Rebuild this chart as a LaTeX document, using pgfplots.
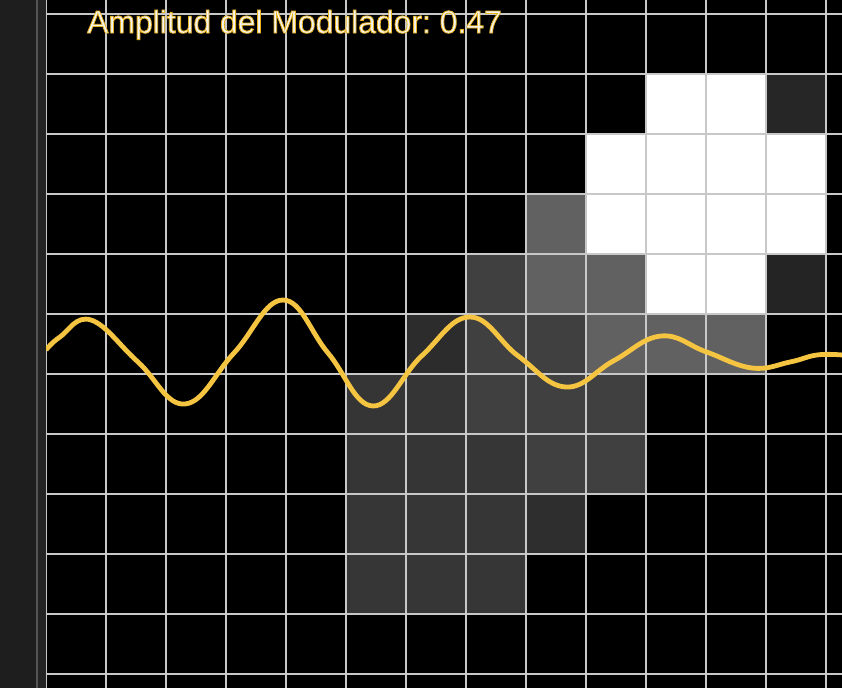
\documentclass[border=0pt]{standalone}
\usepackage{pgfplots}
\pgfplotsset{compat=1.18}
\usepackage{pgfplotstable}
\usepackage{fontspec}
\setmainfont{Liberation Sans}
\usetikzlibrary{calc}

\definecolor{gridgray}{HTML}{C8C8C8}
\definecolor{curve}{HTML}{F5C542}
\definecolor{txt}{HTML}{F5F5F2}
\definecolor{strip}{HTML}{1E1E1E}
\definecolor{stripline}{HTML}{555555}
\definecolor{stripin}{HTML}{232323}

% cell grey levels (0..255), one row per grid row, x varies fastest
\pgfplotstableread{
x y g
5.5 9.5 0
6.5 9.5 0
7.5 9.5 0
8.5 9.5 0
9.5 9.5 0
10.5 9.5 255
11.5 9.5 255
12.5 9.5 38
5.5 8.5 0
6.5 8.5 0
7.5 8.5 0
8.5 8.5 0
9.5 8.5 255
10.5 8.5 255
11.5 8.5 255
12.5 8.5 255
5.5 7.5 0
6.5 7.5 0
7.5 7.5 0
8.5 7.5 96
9.5 7.5 255
10.5 7.5 255
11.5 7.5 255
12.5 7.5 255
5.5 6.5 0
6.5 6.5 0
7.5 6.5 64
8.5 6.5 96
9.5 6.5 96
10.5 6.5 255
11.5 6.5 255
12.5 6.5 36
5.5 5.5 0
6.5 5.5 44
7.5 5.5 64
8.5 5.5 64
9.5 5.5 96
10.5 5.5 96
11.5 5.5 96
12.5 5.5 0
5.5 4.5 53
6.5 4.5 53
7.5 4.5 64
8.5 4.5 64
9.5 4.5 64
10.5 4.5 0
11.5 4.5 0
12.5 4.5 0
5.5 3.5 53
6.5 3.5 53
7.5 3.5 54
8.5 3.5 64
9.5 3.5 64
10.5 3.5 0
11.5 3.5 0
12.5 3.5 0
5.5 2.5 54
6.5 2.5 54
7.5 2.5 54
8.5 2.5 46
9.5 2.5 0
10.5 2.5 0
11.5 2.5 0
12.5 2.5 0
5.5 1.5 54
6.5 1.5 54
7.5 1.5 54
8.5 1.5 0
9.5 1.5 0
10.5 1.5 0
11.5 1.5 0
12.5 1.5 0
}\cells

% modulated signal: extrema and the crossings between them
\pgfplotstableread{
x y
0 5.4
0.233 5.617
0.75 5.9
1.533 5.2
2.317 4.5
3.133 5.35
3.95 6.233
4.7 5.35
5.45 4.467
6.26 5.3
7.067 5.95
7.87 5.3
8.667 4.783
9.46 5.22
10.25 5.633
11.0 5.37
11.767 5.1
12.4 5.2
12.85 5.317
13.267 5.317
}\wave

\begin{document}
\frenchspacing
\begin{tikzpicture}
\begin{axis}[
    set layers=standard,
    scale only axis,
    width=796bp, height=688bp,
    xmin=0, xmax=13.2667,
    ymin=-0.2333, ymax=11.2333,
    xtick={0,...,13}, ytick={0,...,11},
    xticklabels={}, yticklabels={},
    tick style={draw=none},
    axis line style={draw=none},
    grid=major,
    major grid style={draw=gridgray, line width=1.6bp},
    axis background/.style={fill=black},
    colormap={bw}{gray(0cm)=(0); gray(1cm)=(1)},
    point meta min=0, point meta max=255,
]
\addplot[matrix plot*, on layer=axis background, mesh/cols=8,
    point meta=explicit, draw=none] table[meta=g] {\cells};
\addplot[curve, line width=4.8bp, smooth, tension=0.7, no marks] table {\wave};
\coordinate (T) at (axis cs:0.683,10.683);
\end{axis}
% white text with a thin yellow outline (fill + stroke render mode)
\node[anchor=base west, inner sep=0, font=\fontsize{32}{36}\selectfont]
    at (T) {\color{txt}\special{pdf:literal direct 2 Tr 0.8 w 0.91 0.70 0.11 RG}Amplitud del Modulador: 0.47\special{pdf:literal direct 0 Tr}};
\fill[strip] ($(current axis.south west)+(-46bp,0)$) rectangle ($(current axis.north west)+(-10bp,0)$);
\fill[stripline] ($(current axis.south west)+(-10bp,0)$) rectangle ($(current axis.north west)+(-8bp,0)$);
\fill[stripin] ($(current axis.south west)+(-8bp,0)$) rectangle (current axis.north west);
\pgfresetboundingbox
\path[use as bounding box] ($(current axis.south west)+(-46bp,0)$) rectangle (current axis.north east);
\end{tikzpicture}
\end{document}
